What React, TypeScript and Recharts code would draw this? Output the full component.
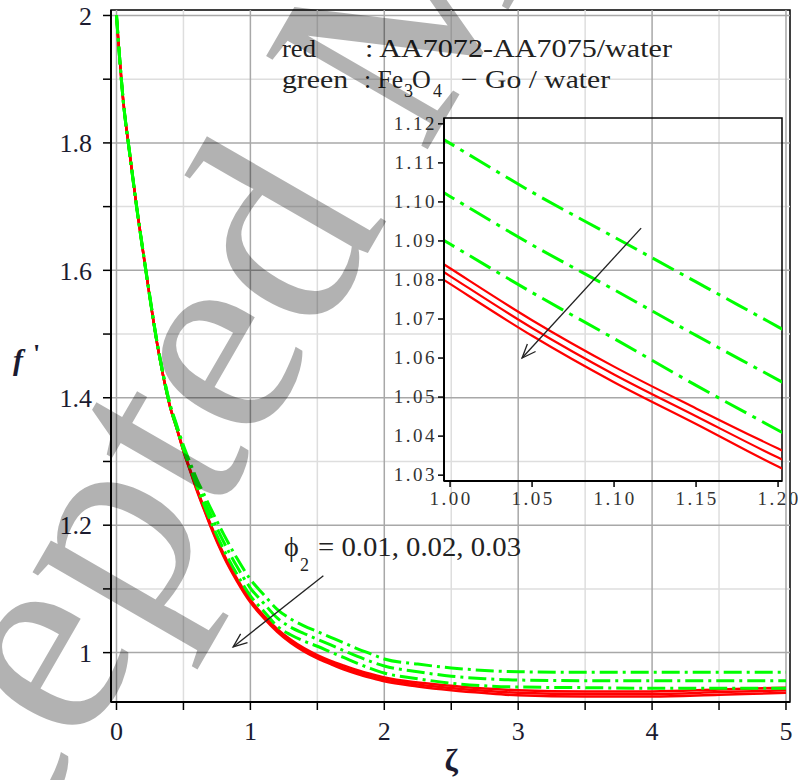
import React from 'react';
import { LineChart, Line, XAxis, YAxis, ReferenceLine, ReferenceArea } from 'recharts';

// ---------- main chart data ----------
const zeta = [0, 0.05, 0.1, 0.15, 0.2, 0.25, 0.3, 0.35, 0.4, 0.45, 0.5, 0.55, 0.6, 0.65, 0.7, 0.8, 0.9, 1.0, 1.1, 1.2, 1.3, 1.4, 1.5, 1.6, 1.7, 1.8, 1.9, 2.0, 2.25, 2.5, 2.75, 3.0, 3.5, 4.0, 4.5, 5.0];
const red1 = [2.0, 1.867, 1.781, 1.7, 1.627, 1.556, 1.489, 1.433, 1.386, 1.3525, 1.318, 1.287, 1.2575, 1.2295, 1.203, 1.155, 1.116, 1.083, 1.058, 1.0373, 1.0205, 1.007, 0.996, 0.987, 0.9795, 0.9725, 0.9665, 0.961, 0.953, 0.948, 0.9435, 0.941, 0.939, 0.939, 0.942, 0.945];
const red2 = [2.0, 1.867, 1.781, 1.7, 1.627, 1.556, 1.489, 1.433, 1.386, 1.352, 1.317, 1.286, 1.256, 1.228, 1.201, 1.153, 1.114, 1.081, 1.056, 1.035, 1.018, 1.0045, 0.9935, 0.9845, 0.9765, 0.9695, 0.9635, 0.958, 0.95, 0.9445, 0.94, 0.937, 0.935, 0.935, 0.938, 0.941];
const red3 = [2.0, 1.867, 1.781, 1.7, 1.627, 1.556, 1.489, 1.433, 1.386, 1.3515, 1.316, 1.285, 1.2545, 1.2265, 1.199, 1.151, 1.112, 1.079, 1.054, 1.0327, 1.0155, 1.002, 0.991, 0.982, 0.9735, 0.9665, 0.9605, 0.955, 0.947, 0.941, 0.9365, 0.933, 0.931, 0.931, 0.934, 0.937];
const green1 = [2.0, 1.867, 1.782, 1.701, 1.628, 1.558, 1.491, 1.436, 1.39, 1.357, 1.325, 1.298, 1.272, 1.25, 1.228, 1.186, 1.148, 1.115, 1.091, 1.068, 1.053, 1.042, 1.033, 1.024, 1.015, 1.006, 0.998, 0.99, 0.982, 0.976, 0.972, 0.97, 0.969, 0.969, 0.969, 0.969];
const green2 = [2.0, 1.867, 1.781, 1.7, 1.627, 1.557, 1.49, 1.435, 1.388, 1.355, 1.321, 1.293, 1.266, 1.241, 1.218, 1.174, 1.135, 1.1014, 1.0775, 1.0544, 1.04, 1.03, 1.021, 1.012, 1.003, 0.994, 0.986, 0.979, 0.97, 0.963, 0.959, 0.957, 0.956, 0.956, 0.956, 0.956];
const green3 = [2.0, 1.867, 1.781, 1.7, 1.627, 1.556, 1.49, 1.434, 1.387, 1.353, 1.319, 1.29, 1.261, 1.234, 1.208, 1.162, 1.123, 1.0892, 1.065, 1.0415, 1.028, 1.018, 1.01, 1.001, 0.992, 0.983, 0.975, 0.968, 0.959, 0.952, 0.948, 0.946, 0.945, 0.944, 0.944, 0.944];

const xTicks = [0, 0.5, 1, 1.5, 2, 2.5, 3, 3.5, 4, 4.5, 5];
const xMajor = [0, 1, 2, 3, 4, 5];
const xMinor = [0.5, 1.5, 2.5, 3.5, 4.5];
const yTicks = [1, 1.1, 1.2, 1.3, 1.4, 1.5, 1.6, 1.7, 1.8, 1.9, 2];
const yMajor = [1, 1.2, 1.4, 1.6, 1.8, 2];
const yMinor = [1.1, 1.3, 1.5, 1.7, 1.9];
const X_DOMAIN = [-0.041, 5.03];
const Y_DOMAIN = [0.9225, 2.0086];

// ---------- inset data ----------
const insetZeta = [0.99, 1.0, 1.05, 1.1, 1.15, 1.2, 1.21];
const insetRed1 = [1.0857, 1.083, 1.0697, 1.0578, 1.0471, 1.0368, 1.0348];
const insetRed2 = [1.0837, 1.081, 1.0677, 1.0558, 1.0451, 1.0345, 1.0325];
const insetRed3 = [1.0817, 1.079, 1.0657, 1.0538, 1.0431, 1.0322, 1.0302];
const insetGreen1 = [1.1175, 1.115, 1.1025, 1.091, 1.0795, 1.068, 1.0657];
const insetGreen2 = [1.1039, 1.1014, 1.089, 1.0775, 1.0658, 1.0544, 1.0521];
const insetGreen3 = [1.0917, 1.0892, 1.0768, 1.065, 1.053, 1.0415, 1.0392];
const insetXTicks = [1.0, 1.05, 1.1, 1.15, 1.2];
const insetYTicks = [1.03, 1.04, 1.05, 1.06, 1.07, 1.08, 1.09, 1.1, 1.11, 1.12];
const INSET_X_DOMAIN = [0.9963, 1.2024];
const INSET_Y_DOMAIN = [1.0285, 1.1215];

// annotation arrows (data coordinates)
const mainArrow = [{ x: 1.545, y: 1.1206 }, { x: 0.871, y: 1.009 }];
const insetArrow = [{ x: 1.1165, y: 1.0933 }, { x: 1.0439, y: 1.06 }];

const mainData = zeta.map((z, i) => ({ z, r1: red1[i], r2: red2[i], r3: red3[i], g1: green1[i], g2: green2[i], g3: green3[i] }));
const insetData = insetZeta.map((z, i) => ({ z, r1: insetRed1[i], r2: insetRed2[i], r3: insetRed3[i], g1: insetGreen1[i], g2: insetGreen2[i], g3: insetGreen3[i] }));

const SERIF = 'Liberation Serif';
const RED = '#ff0000';
const GREEN = '#00ff00';
const TICK_FILL = '#1b1b30';

const arrowShape = (props: any) => {
  const { x1, y1, x2, y2 } = props;
  const ang = Math.atan2(y2 - y1, x2 - x1);
  const len = 15;
  const spread = 0.38;
  const ax = x2 - len * Math.cos(ang - spread);
  const ay = y2 - len * Math.sin(ang - spread);
  const bx = x2 - len * Math.cos(ang + spread);
  const by = y2 - len * Math.sin(ang + spread);
  return (
    <g>
      <line x1={x1} y1={y1} x2={x2} y2={y2} stroke="#222" strokeWidth={1.3} />
      <polyline points={`${ax},${ay} ${x2},${y2} ${bx},${by}`} fill="none" stroke="#222" strokeWidth={1.3} />
    </g>
  );
};

const InsetYTick = (props: any) => {
  const { x, y, payload } = props;
  return (
    <text x={x + 1} y={y} dy={6} textAnchor="end" fontFamily={SERIF} fontSize={19} letterSpacing={2.5} fill="#333">
      {Number(payload.value).toFixed(2)}
    </text>
  );
};

const InsetXTick = (props: any) => {
  const { x, y, payload } = props;
  return (
    <text x={x + 1} y={y} dy={16} textAnchor="middle" fontFamily={SERIF} fontSize={19} letterSpacing={2.5} fill="#333">
      {Number(payload.value).toFixed(2)}
    </text>
  );
};

export default function App() {
  return (
    <div style={{ position: 'absolute', left: 0, top: 0, width: 798, height: 780, background: '#fff', overflow: 'hidden', fontFamily: SERIF }}>
      <div style={{ position: 'absolute', left: 0, top: 0 }}>
        <LineChart width={798} height={780} data={mainData} margin={{ top: 10, right: 8, bottom: 48, left: 51 }}>
          {xMinor.map((v) => (
            <ReferenceLine key={'xm' + v} x={v} stroke="#dedede" strokeWidth={1.5} />
          ))}
          {yMinor.map((v) => (
            <ReferenceLine key={'ym' + v} y={v} stroke="#dedede" strokeWidth={1.5} />
          ))}
          {xMajor.map((v) => (
            <ReferenceLine key={'xM' + v} x={v} stroke="#a8a8a8" strokeWidth={1.5} />
          ))}
          {yMajor.map((v) => (
            <ReferenceLine key={'yM' + v} y={v} stroke="#a8a8a8" strokeWidth={1.5} />
          ))}
          <ReferenceArea x1={X_DOMAIN[0]} x2={X_DOMAIN[1]} y1={Y_DOMAIN[0]} y2={Y_DOMAIN[1]} fill="none" stroke="#000" strokeWidth={1.5} ifOverflow="visible" />
          <XAxis
            type="number"
            dataKey="z"
            domain={X_DOMAIN}
            ticks={xTicks}
            allowDataOverflow
            height={30}
            tickSize={8}
            tickMargin={12}
            tickFormatter={(v: number) => (Number.isInteger(v) ? String(v) : '')}
            axisLine={{ stroke: '#000', strokeWidth: 2 }}
            tickLine={{ stroke: '#000', strokeWidth: 1.5 }}
            tick={{ fontSize: 26, fontFamily: SERIF, fill: TICK_FILL }}
          />
          <YAxis
            type="number"
            domain={Y_DOMAIN}
            ticks={yTicks}
            allowDataOverflow
            width={60}
            tickSize={8}
            tickMargin={11}
            tickFormatter={(v: number) => (Math.round(v * 10) % 2 === 0 ? String(Math.round(v * 10) / 10) : '')}
            axisLine={{ stroke: '#000', strokeWidth: 2 }}
            tickLine={{ stroke: '#000', strokeWidth: 1.5 }}
            tick={{ fontSize: 26, fontFamily: SERIF, fill: TICK_FILL }}
          />
          <Line type="monotone" dataKey="r1" stroke={RED} strokeWidth={2.5} dot={false} isAnimationActive={false} />
          <Line type="monotone" dataKey="r2" stroke={RED} strokeWidth={2.5} dot={false} isAnimationActive={false} />
          <Line type="monotone" dataKey="r3" stroke={RED} strokeWidth={2.5} dot={false} isAnimationActive={false} />
          <Line type="monotone" dataKey="g1" stroke={GREEN} strokeWidth={3} strokeDasharray="18 5 3 5" dot={false} isAnimationActive={false} />
          <Line type="monotone" dataKey="g2" stroke={GREEN} strokeWidth={3} strokeDasharray="18 5 3 5" dot={false} isAnimationActive={false} />
          <Line type="monotone" dataKey="g3" stroke={GREEN} strokeWidth={3} strokeDasharray="18 5 3 5" dot={false} isAnimationActive={false} />
          <ReferenceLine segment={mainArrow} ifOverflow="visible" shape={arrowShape} />
        </LineChart>
      </div>

      <div style={{ position: 'absolute', left: 380, top: 108 }}>
        <LineChart width={418} height={420} data={insetData} margin={{ top: 10, right: 16, bottom: 12, left: 10 }}>
          <ReferenceArea x1={INSET_X_DOMAIN[0]} x2={INSET_X_DOMAIN[1]} y1={INSET_Y_DOMAIN[0]} y2={INSET_Y_DOMAIN[1]} fill="none" stroke="#000" strokeWidth={1.5} ifOverflow="visible" />
          <XAxis
            type="number"
            dataKey="z"
            domain={INSET_X_DOMAIN}
            ticks={insetXTicks}
            allowDataOverflow
            height={35}
            tickSize={6}
            tickMargin={2}
            axisLine={{ stroke: '#000', strokeWidth: 2 }}
            tickLine={{ stroke: '#000', strokeWidth: 1.5 }}
            tick={<InsetXTick />}
          />
          <YAxis
            type="number"
            domain={INSET_Y_DOMAIN}
            ticks={insetYTicks}
            allowDataOverflow
            width={54}
            tickSize={6}
            tickMargin={2}
            axisLine={{ stroke: '#000', strokeWidth: 2 }}
            tickLine={{ stroke: '#000', strokeWidth: 1.5 }}
            tick={<InsetYTick />}
          />
          <Line type="monotone" dataKey="r1" stroke={RED} strokeWidth={2.2} dot={false} isAnimationActive={false} />
          <Line type="monotone" dataKey="r2" stroke={RED} strokeWidth={2.2} dot={false} isAnimationActive={false} />
          <Line type="monotone" dataKey="r3" stroke={RED} strokeWidth={2.2} dot={false} isAnimationActive={false} />
          <Line type="monotone" dataKey="g1" stroke={GREEN} strokeWidth={3} strokeDasharray="24 7 4 7" dot={false} isAnimationActive={false} />
          <Line type="monotone" dataKey="g2" stroke={GREEN} strokeWidth={3} strokeDasharray="24 7 4 7" dot={false} isAnimationActive={false} />
          <Line type="monotone" dataKey="g3" stroke={GREEN} strokeWidth={3} strokeDasharray="24 7 4 7" dot={false} isAnimationActive={false} />
          <ReferenceLine segment={insetArrow} ifOverflow="visible" shape={arrowShape} />
        </LineChart>
      </div>

      <svg width={798} height={780} style={{ position: 'absolute', left: 0, top: 0, pointerEvents: 'none' }}>
        <g fontFamily={SERIF} fill="#222">
          {/* legend */}
          <text x={282} y={57} fontSize={26} textLength={34} lengthAdjust="spacingAndGlyphs">red</text>
          <text x={365} y={57} fontSize={26} textLength={307} lengthAdjust="spacingAndGlyphs">: AA7072-AA7075/water</text>
          <text x={282} y={88} fontSize={26} textLength={66} lengthAdjust="spacingAndGlyphs">green</text>
          <text x={364} y={88} fontSize={26} textLength={39} lengthAdjust="spacingAndGlyphs">: Fe</text>
          <text x={404} y={97} fontSize={18}>3</text>
          <text x={412} y={88} fontSize={26}>O</text>
          <text x={433} y={97} fontSize={18}>4</text>
          <text x={461} y={88} fontSize={26} textLength={149} lengthAdjust="spacingAndGlyphs">− Go / water</text>
          {/* phi annotation */}
          <text x={284} y={556} fontSize={28}>ϕ</text>
          <text x={300} y={571} fontSize={18}>2</text>
          <text x={318} y={556} fontSize={28} textLength={203} lengthAdjust="spacingAndGlyphs">= 0.01, 0.02, 0.03</text>
          {/* axis titles */}
          <text x={13} y={370} fontSize={30} fontStyle="italic" fontWeight="bold" fill="#1b1b30">f</text>
          <text x={33} y={362} fontSize={26} fontWeight="bold" fill="#1b1b30">'</text>
          <text x={451} y={771} fontSize={32} fontWeight="bold" textAnchor="middle" fill="#1b1b30">ζ</text>
        </g>
        {/* watermark */}
        <text
          x={0}
          y={0}
          transform="translate(-150,1150) rotate(-60)"
          fontFamily={SERIF}
          fontSize={285}
          fill="#000"
          fillOpacity={0.3}
        >
          Accepted Manuscript
        </text>
      </svg>
    </div>
  );
}
